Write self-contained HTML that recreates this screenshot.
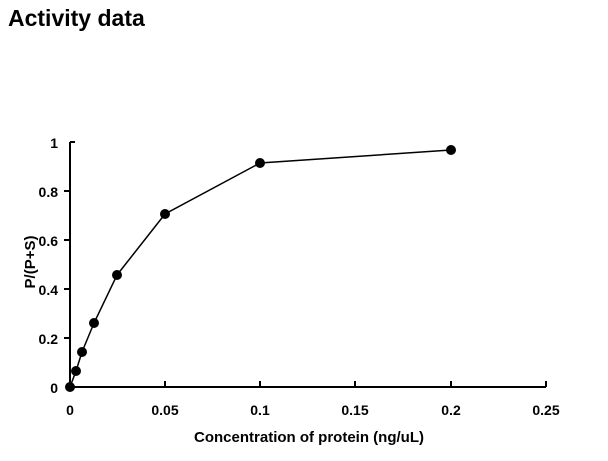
<html><body style="margin:0;background:#fff">
<svg width="608" height="461" xmlns="http://www.w3.org/2000/svg" font-family="Liberation Sans, sans-serif" font-weight="bold">
<text x="8" y="26" font-size="23">Activity data</text>
<g stroke="#000" stroke-width="2" fill="none">
<line x1="70" y1="142" x2="70" y2="387"/>
<line x1="70" y1="387" x2="546" y2="387"/>
<line x1="70" y1="142" x2="75" y2="142"/>
<line x1="64" y1="191" x2="70" y2="191"/>
<line x1="64" y1="240" x2="70" y2="240"/>
<line x1="64" y1="289" x2="70" y2="289"/>
<line x1="64" y1="338" x2="70" y2="338"/>
<line x1="165" y1="381" x2="165" y2="387"/>
<line x1="260" y1="381" x2="260" y2="387"/>
<line x1="355" y1="381" x2="355" y2="387"/>
<line x1="451" y1="381" x2="451" y2="387"/>
<line x1="546" y1="381" x2="546" y2="387"/>
</g>
<polyline fill="none" stroke="#000" stroke-width="1.5" points="70,387 76,371 82,352 94,323 117,275 165,214 260,163 451,150"/>
<g fill="#000">
<circle cx="70" cy="387" r="5"/><circle cx="76" cy="371" r="5"/><circle cx="82" cy="352" r="5"/><circle cx="94" cy="323" r="5"/><circle cx="117" cy="275" r="5"/><circle cx="165" cy="214" r="5"/><circle cx="260" cy="163" r="5"/><circle cx="451" cy="150" r="5"/>
</g>
<g font-size="14" text-anchor="end">
<text x="58" y="148">1</text><text x="58" y="197">0.8</text><text x="58" y="246">0.6</text><text x="58" y="295">0.4</text><text x="58" y="344">0.2</text><text x="58" y="393">0</text>
</g>
<g font-size="14" text-anchor="middle">
<text x="70" y="415">0</text><text x="165" y="415">0.05</text><text x="260" y="415">0.1</text><text x="355" y="415">0.15</text><text x="451" y="415">0.2</text><text x="546" y="415">0.25</text>
</g>
<g font-size="15" text-anchor="middle">
<text x="309" y="442">Concentration of protein (ng/uL)</text>
<text transform="translate(35,262) rotate(-90)">P/(P+S)</text>
</g>
</svg>
</body></html>
